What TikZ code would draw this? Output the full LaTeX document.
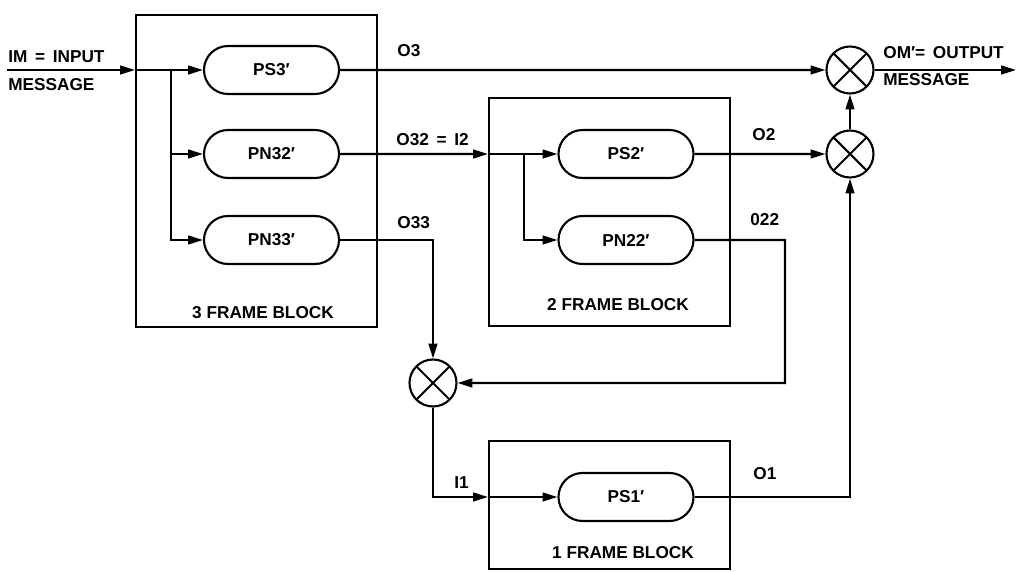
\documentclass[tikz,border=0pt]{standalone}
\usepackage{fontspec}
\setmainfont{Liberation Sans}
\usepackage{tikz}
\usetikzlibrary{
	arrows.meta,
	positioning,
	shapes.misc
}
\tikzset{
	bloque/.style={
		draw,
		line width=1.2pt,
		inner sep=0pt
	},
	proceso/.style={
		draw,
		rounded rectangle,
		line width=1.2pt,
		minimum width=2.7cm,
		minimum height=0.96cm,
		inner sep=0pt,
		font=\fontsize{9.8}{11}\selectfont\bfseries
	},
	mezclador/.style={
		draw,
		circle,
		line width=1.2pt,
		minimum size=0.94cm,
		inner sep=0pt,
		path picture={
			\draw[line width=1.2pt]
				(path picture bounding box.north west) -- (path picture bounding box.south east)
				(path picture bounding box.north east) -- (path picture bounding box.south west);
		}
	},
	etiqueta/.style={
		inner sep=0pt,
		anchor=west,
		font=\fontsize{9.8}{11}\selectfont\bfseries
	},
	titulo/.style={
		inner sep=0pt,
		font=\fontsize{9.8}{11}\selectfont\bfseries
	},
	flecha/.style={
		-{Triangle[length=8.5pt,width=5pt]},
		line width=1.2pt
	}
}

\begin{document}
\begin{tikzpicture}
	\useasboundingbox (0,0) rectangle (20.34,-11.44);
	% bloques de tramas
	\node[bloque, minimum width=4.82cm, minimum height=6.24cm] (b3) at (5.13,-3.42) {};
	\node[bloque, minimum width=4.82cm, minimum height=4.56cm] (b2) at (12.19,-4.24) {};
	\node[bloque, minimum width=4.82cm, minimum height=2.56cm] (b1) at (12.19,-10.10) {};
	\node[titulo] at (5.26,-6.26) {3 FRAME BLOCK};
	\node[titulo] at (12.36,-6.10) {2 FRAME BLOCK};
	\node[titulo] at (12.46,-11.06) {1 FRAME BLOCK};
	% procesos
	\node[proceso] (ps3) at (5.43,-1.40) {PS3′};
	\node[proceso] (pn32) at (5.43,-3.08) {PN32′};
	\node[proceso] (pn33) at (5.43,-4.80) {PN33′};
	\node[proceso] (ps2) at (12.52,-3.08) {PS2′};
	\node[proceso] (pn22) at (12.52,-4.80) {PN22′};
	\node[proceso] (ps1) at (12.52,-9.94) {PS1′};
	% mezcladores
	\node[mezclador] (m1) at (17.00,-1.40) {};
	\node[mezclador] (m2) at (17.00,-3.08) {};
	\node[mezclador] (m3) at (8.66,-7.66) {};
	% puntos auxiliares
	\coordinate (in) at (0.14,-1.40);
	\coordinate (out) at (20.32,-1.40);
	\coordinate (r3) at (3.42,-1.40);
	\coordinate (r2) at (10.48,-3.08);
	\coordinate (c22) at (15.70,-4.80);
	% conexiones
	\draw[flecha] (in) -- (in -| b3.west);
	\draw[flecha] (in -| b3.west) -- (ps3);
	\draw[flecha] (r3) |- (pn32);
	\draw[flecha] (r3) |- (pn33);
	\draw[flecha] (ps3) -- (m1);
	\draw[flecha] (pn32) -- (pn32 -| b2.west);
	\draw[flecha] (pn32 -| b2.west) -- (ps2);
	\draw[flecha] (r2) |- (pn22);
	\draw[flecha] (ps2) -- (m2);
	\draw[flecha] (m2) -- (m1);
	\draw[flecha] (m1) -- (out);
	\draw[flecha] (pn33) -| (m3);
	\draw[flecha] (pn22) -- (c22) |- (m3);
	\draw[flecha] (m3) |- (ps1 -| b1.west);
	\draw[flecha] (ps1 -| b1.west) -- (ps1);
	\draw[flecha] (ps1) -| (m2);
	% etiquetas
	\node[etiqueta] at (0.16,-1.14) {IM \,=\, INPUT};
	\node[etiqueta] at (0.16,-1.70) {MESSAGE};
	\node[etiqueta] at (7.94,-1.02) {O3};
	\node[etiqueta] at (7.92,-2.80) {O32 \,=\, I2};
	\node[etiqueta] at (7.94,-4.46) {O33};
	\node[etiqueta] at (15.04,-2.70) {O2};
	\node[etiqueta] at (15.00,-4.40) {022};
	\node[etiqueta] at (15.06,-9.48) {O1};
	\node[etiqueta] at (9.08,-9.66) {I1};
	\node[etiqueta] at (17.66,-1.06) {OM′= \,OUTPUT};
	\node[etiqueta] at (17.66,-1.60) {MESSAGE};
\end{tikzpicture}
\end{document}
